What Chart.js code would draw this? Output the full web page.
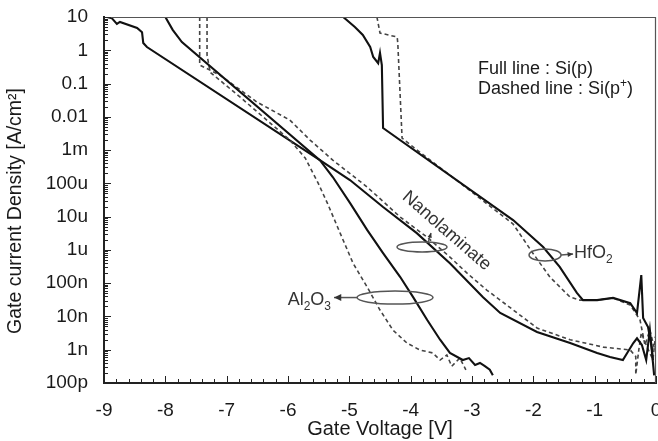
<!DOCTYPE html>
<html>
<head>
<meta charset="utf-8">
<title>Gate current density</title>
<script src="https://cdn.jsdelivr.net/npm/chart.js@4.4.0/dist/chart.umd.min.js"></script>
<style>
  html, body { margin: 0; padding: 0; background: #fff; }
  #wrap { width: 658px; height: 441px; }
</style>
</head>
<body>
<div id="wrap"><canvas id="grafica" width="658" height="441"></canvas></div>
<script>
/* Voltaje de compuerta (V) y densidad de corriente (A/cm2)
   linea llena = Si(p), linea punteada = Si(p+) */
var al2o3FullV = [-8.00, -7.88, -7.73, -5.48, -5.27, -4.99, -4.71, -4.45, -4.17, -3.96, -3.73, -3.52, -3.36, -3.15, -3.05, -2.95, -2.87, -2.79, -2.71, -2.66];
var al2o3FullJ = [10, 4.1, 1.77, 5.0e-4, 1.55e-4, 2.6e-5, 4.0e-6, 8.0e-7, 1.53e-7, 3.8e-8, 7.8e-9, 2.0e-9, 8.0e-10, 4.9e-10, 5.6e-10, 3.5e-10, 4.0e-10, 3.2e-10, 2.5e-10, 1.7e-10];

var al2o3DashV = [-7.32, -7.32, -7.27, -6.78, -6.29, -5.97, -5.72, -5.51, -5.36, -5.15, -4.94, -4.71, -4.50, -4.29, -4.06, -3.85, -3.64, -3.52, -3.41, -3.33, -3.20, -3.10];
var al2o3DashJ = [10, 0.72, 0.22, 0.039, 6.5e-3, 2.0e-3, 5.8e-4, 1.03e-4, 2.6e-5, 3.2e-6, 4.0e-7, 7.7e-8, 1.56e-8, 3.9e-9, 1.59e-9, 9.8e-10, 8.0e-10, 4.9e-10, 6.9e-10, 3.2e-10, 5.6e-10, 2.5e-10];

var nanoFullV = [-8.95, -8.87, -8.79, -8.74, -8.46, -8.38, -8.36, -8.30, -5.48, -4.99, -4.45, -3.90, -3.36, -2.82, -2.54, -1.94, -1.40, -0.96, -0.75, -0.54, -0.47, -0.37, -0.31, -0.23, -0.16, -0.10, -0.03];
var nanoFullJ = [10, 9.1, 6.2, 7.1, 4.7, 3.5, 1.66, 1.25, 5.0e-4, 1.26e-4, 1.95e-5, 3.2e-6, 4.0e-7, 3.8e-8, 1.27e-8, 3.4e-9, 1.59e-9, 8.0e-10, 6.0e-10, 4.9e-10, 8.0e-10, 1.59e-9, 2.2e-9, 1.38e-9, 4.9e-10, 3.9e-9, 1.7e-10];

var nanoDashV = [-7.44, -7.44, -7.11, -6.51, -5.97, -5.64, -5.27, -4.71, -4.17, -3.73, -3.36, -3.08, -2.76, -2.54, -1.94, -1.40, -0.86, -0.42, -0.33, -0.33, -0.28, -0.24, -0.15, -0.05, -0.01];
var nanoDashJ = [10, 0.36, 0.18, 0.028, 8.0e-3, 2.0e-3, 5.0e-4, 7.8e-5, 9.7e-6, 2.4e-6, 6.1e-7, 2.0e-7, 6.2e-8, 3.1e-8, 4.5e-9, 2.0e-9, 1.2e-9, 9.8e-10, 6.3e-10, 1.8e-10, 1.0e-9, 3.2e-9, 1.26e-9, 5.0e-10, 2.5e-9];

var hfo2FullV = [-5.10, -4.91, -4.78, -4.66, -4.61, -4.53, -4.50, -4.47, -4.45, -2.33, -1.84, -1.57, -1.29, -1.19, -0.96, -0.70, -0.42, -0.31, -0.24, -0.21, -0.13, -0.07, -0.05];
var hfo2FullJ = [10, 5.0, 2.9, 1.25, 0.63, 0.41, 0.83, 0.36, 4.6e-3, 7.9e-6, 1.22e-6, 3.1e-7, 5.1e-8, 3.1e-8, 3.1e-8, 3.6e-8, 2.5e-8, 1.27e-8, 1.76e-7, 9.0e-9, 4.8e-9, 1.2e-9, 4.9e-10];

var hfo2DashV = [-4.55, -4.50, -4.22, -4.21, -4.14, -3.96, -3.15, -2.33, -2.01, -1.73, -1.40, -1.24, -0.96, -0.70, -0.42, -0.26, -0.18, -0.10, -0.02];
var hfo2DashJ = [10, 3.3, 2.5, 1.66, 2.3e-3, 1.24e-3, 8.9e-5, 6.0e-6, 8.1e-7, 1.53e-7, 3.8e-8, 3.1e-8, 3.1e-8, 3.6e-8, 2.2e-8, 7.8e-9, 1.38e-9, 3.9e-9, 1.0e-9];

var xTicks = [-9, -8, -7, -6, -5, -4, -3, -2, -1, 0];
var yTickValues = [1e-10, 1e-9, 1e-8, 1e-7, 1e-6, 1e-5, 1e-4, 1e-3, 1e-2, 1e-1, 1, 10];
var yTickLabels = ['100p', '1n', '10n', '100n', '1u', '10u', '100u', '1m', '0.01', '0.1', '1', '10'];

var FONT = "'Liberation Sans', Arial, Helvetica, sans-serif";
var TINTA = '#1a1a1a';

function puntos(v, j) {
  return v.map(function (x, i) { return { x: x, y: j[i] }; });
}

function serie(v, j, punteada) {
  return {
    data: puntos(v, j),
    borderColor: punteada ? '#444' : '#111',
    borderWidth: punteada ? 1.6 : 2.1,
    borderDash: punteada ? [4, 3] : [],
    pointRadius: 0,
    tension: 0,
    fill: false
  };
}

/* texto con subindices / superindices: [texto, 0 normal | 1 sub | -1 super] */
function anchoPartes(ctx, partes, size) {
  var w = 0;
  partes.forEach(function (p) {
    ctx.font = (p[1] ? Math.round(size * 0.65) : size) + 'px ' + FONT;
    w += ctx.measureText(p[0]).width;
  });
  return w;
}
function textoPartes(ctx, partes, x, y, size) {
  ctx.textAlign = 'left';
  ctx.textBaseline = 'alphabetic';
  partes.forEach(function (p) {
    ctx.font = (p[1] ? Math.round(size * 0.65) : size) + 'px ' + FONT;
    var dy = p[1] === 1 ? size * 0.28 : (p[1] === -1 ? -size * 0.42 : 0);
    ctx.fillText(p[0], x, y + dy);
    x += ctx.measureText(p[0]).width;
  });
}

function flecha(ctx, x1, y1, x2, y2, cabeza) {
  var ang = Math.atan2(y2 - y1, x2 - x1);
  ctx.beginPath();
  ctx.moveTo(x1, y1);
  ctx.lineTo(x2, y2);
  ctx.stroke();
  ctx.beginPath();
  ctx.moveTo(x2, y2);
  ctx.lineTo(x2 - cabeza * Math.cos(ang - 0.45), y2 - cabeza * Math.sin(ang - 0.45));
  ctx.lineTo(x2 - cabeza * Math.cos(ang + 0.45), y2 - cabeza * Math.sin(ang + 0.45));
  ctx.closePath();
  ctx.fill();
}

/* marcas hacia adentro, marco superior/derecho y titulo del eje y */
var marcasInternas = {
  id: 'marcasInternas',
  afterDraw: function (chart) {
    var ctx = chart.ctx, a = chart.chartArea;
    var sx = chart.scales.x, sy = chart.scales.y;
    ctx.save();
    ctx.strokeStyle = '#555';
    ctx.lineWidth = 1.2;
    ctx.beginPath();
    ctx.moveTo(a.left, a.top + 0.5);
    ctx.lineTo(a.right - 0.5, a.top + 0.5);
    ctx.lineTo(a.right - 0.5, a.bottom);
    ctx.stroke();

    ctx.strokeStyle = '#222';
    ctx.lineWidth = 1;
    ctx.beginPath();
    for (var d = -10; d <= 1; d++) {
      for (var m = 1; m <= 9; m++) {
        var val = m * Math.pow(10, d);
        if (val > 10.0001) break;
        var py = Math.round(sy.getPixelForValue(val)) + 0.5;
        var len = m === 1 ? 7 : 4;
        ctx.moveTo(a.left, py);
        ctx.lineTo(a.left + len, py);
      }
    }
    for (var i = 0; i <= 45; i++) {
      var px = Math.round(sx.getPixelForValue(-9 + i * 0.2)) + 0.5;
      var l = i % 5 === 0 ? 7 : 4;
      ctx.moveTo(px, a.bottom);
      ctx.lineTo(px, a.bottom - l);
    }
    ctx.stroke();

    // titulo vertical, un poco bajo el centro del area
    ctx.translate(16, (a.top + a.bottom) / 2 + 11);
    ctx.rotate(-Math.PI / 2);
    ctx.fillStyle = TINTA;
    ctx.font = '19.5px ' + FONT;
    ctx.textAlign = 'center';
    ctx.textBaseline = 'middle';
    ctx.fillText('Gate current Density [A/cm²]', 0, 0);
    ctx.restore();
  }
};

/* notas: elipses, flechas y nombres de cada oxido, leyenda de lineas */
var notas = {
  id: 'notas',
  afterDatasetsDraw: function (chart) {
    var ctx = chart.ctx, sx = chart.scales.x, sy = chart.scales.y;
    ctx.save();
    ctx.strokeStyle = '#555';
    ctx.fillStyle = '#333';
    ctx.lineWidth = 1.5;

    // Al2O3
    var cx = sx.getPixelForValue(-4.255), cy = sy.getPixelForValue(3.7e-8);
    ctx.beginPath();
    ctx.ellipse(cx, cy, 38, 6.5, 0, 0, Math.PI * 2);
    ctx.stroke();
    flecha(ctx, cx - 38, cy, cx - 61, cy, 8);
    var al = [['Al', 0], ['2', 1], ['O', 0], ['3', 1]];
    textoPartes(ctx, al, cx - 64 - anchoPartes(ctx, al, 18), cy + 7, 18);

    // Nanolaminate
    cx = sx.getPixelForValue(-3.815); cy = sy.getPixelForValue(1.22e-6);
    ctx.beginPath();
    ctx.ellipse(cx, cy, 25, 5, 0, 0, Math.PI * 2);
    ctx.stroke();
    flecha(ctx, cx + 6, cy - 4, cx + 9, cy - 14, 5);
    var tx = sx.getPixelForValue(-3.415), ty = sy.getPixelForValue(3.7e-6);
    ctx.save();
    ctx.translate(tx, ty);
    ctx.rotate(41 * Math.PI / 180);
    ctx.font = '18px ' + FONT;
    ctx.textAlign = 'center';
    ctx.textBaseline = 'middle';
    ctx.fillText('Nanolaminate', 0, 0);
    ctx.restore();

    // HfO2
    cx = sx.getPixelForValue(-1.809); cy = sy.getPixelForValue(7.0e-7);
    ctx.beginPath();
    ctx.ellipse(cx, cy, 16, 6, 0, 0, Math.PI * 2);
    ctx.stroke();
    flecha(ctx, cx + 16, cy, cx + 28, cy - 1, 6);
    textoPartes(ctx, [['HfO', 0], ['2', 1]], cx + 29, cy + 3, 18);

    // leyenda de estilos de linea
    var lx = sx.getPixelForValue(-2.902);
    ctx.fillStyle = TINTA;
    textoPartes(ctx, [['Full line : Si(p)', 0]], lx, sy.getPixelForValue(0.194), 18);
    textoPartes(ctx, [['Dashed line : Si(p', 0], ['+', -1], [')', 0]], lx, sy.getPixelForValue(0.0475), 18);
    ctx.restore();
  }
};

new Chart(document.getElementById('grafica'), {
  type: 'line',
  data: {
    datasets: [
      serie(al2o3FullV, al2o3FullJ, false),
      serie(al2o3DashV, al2o3DashJ, true),
      serie(nanoFullV, nanoFullJ, false),
      serie(nanoDashV, nanoDashJ, true),
      serie(hfo2FullV, hfo2FullJ, false),
      serie(hfo2DashV, hfo2DashJ, true)
    ]
  },
  options: {
    responsive: false,
    devicePixelRatio: 1,
    animation: false,
    layout: { padding: { top: 17, right: 2, left: 0, bottom: 0 } },
    plugins: { legend: { display: false }, tooltip: { enabled: false } },
    scales: {
      x: {
        type: 'linear',
        min: -9,
        max: 0,
        afterBuildTicks: function (s) { s.ticks = xTicks.map(function (v) { return { value: v }; }); },
        ticks: {
          autoSkip: false,
          maxRotation: 0,
          padding: 16,
          color: TINTA,
          font: { family: FONT, size: 19 },
          callback: function (v) { return String(v); }
        },
        grid: { display: false, drawTicks: false },
        border: { display: true, color: '#222', width: 2 },
        title: {
          display: true,
          text: 'Gate Voltage [V]',
          color: TINTA,
          font: { family: FONT, size: 20 },
          padding: { top: 0, bottom: 0 }
        },
        afterFit: function (s) { s.height = 58; s.paddingLeft = 0; s.paddingRight = 0; }
      },
      y: {
        type: 'logarithmic',
        min: 1e-10,
        max: 10,
        afterBuildTicks: function (s) { s.ticks = yTickValues.map(function (v) { return { value: v }; }); },
        ticks: {
          autoSkip: false,
          padding: 16,
          color: TINTA,
          font: { family: FONT, size: 19 },
          callback: function (v, i) { return yTickLabels[i]; }
        },
        grid: { display: false, drawTicks: false },
        border: { display: true, color: '#222', width: 2 },
        afterFit: function (s) { s.width = 104; s.paddingTop = 0; s.paddingBottom = 0; }
      }
    }
  },
  plugins: [marcasInternas, notas]
});
</script>
</body>
</html>
